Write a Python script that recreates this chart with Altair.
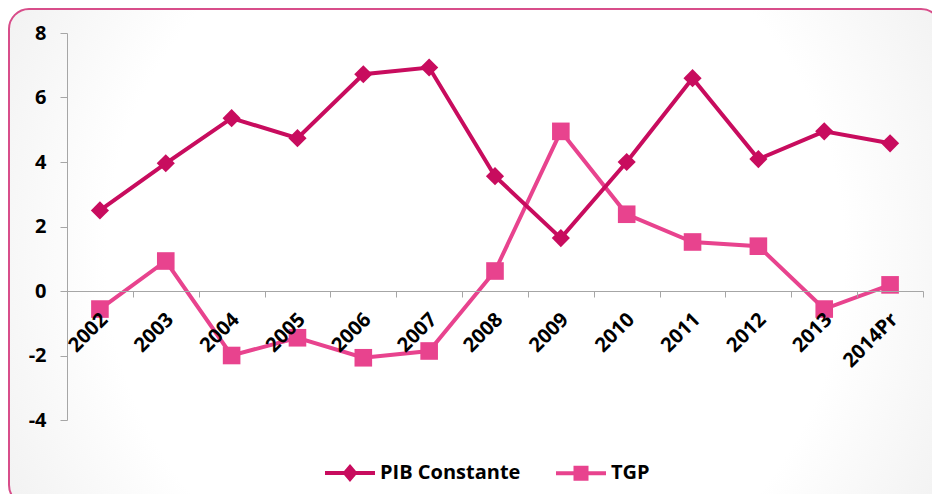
import altair as alt
import pandas as pd

years = ["2002", "2003", "2004", "2005", "2006", "2007", "2008", "2009",
         "2010", "2011", "2012", "2013", "2014Pr"]
pib = [2.5, 3.96, 5.36, 4.74, 6.72, 6.93, 3.56, 1.64, 4.0, 6.6, 4.09, 4.95, 4.58]
tgp = [-0.56, 0.93, -2.0, -1.45, -2.07, -1.86, 0.62, 4.95, 2.38, 1.52, 1.39, -0.56, 0.19]
series = ["PIB Constante", "TGP"]
colors = ["#C80C5E", "#E8438E"]
marker_shapes = ["diamond", "square"]
y_ticks = [-4, -2, 0, 2, 4, 6, 8]

rows = []
for i, yr in enumerate(years):
    rows.append({"year": yr, "series": series[0], "value": pib[i]})
    rows.append({"year": yr, "series": series[1], "value": tgp[i]})
df = pd.DataFrame(rows)

# rows without a value: they draw nothing, they only carry the legend
df_leg = pd.DataFrame({"year": [years[0], years[0]], "series": series, "value": [None, None]})

FONT = "Open Sans"

x_enc = alt.X("year:N", sort=years, title=None,
              scale=alt.Scale(type="band", paddingInner=0, paddingOuter=0),
              axis=alt.Axis(labelAngle=-45, labelAlign="right", labelBaseline="top",
                            labelPadding=12, labelOffset=-3, tickBand="extent", tickSize=6,
                            offset=-129, domainColor="#a6a6a6", tickColor="#a6a6a6",
                            labelFont=FONT, labelFontSize=20, labelFontWeight="bold",
                            labelColor="black", grid=False, zindex=1))
y_enc = alt.Y("value:Q", title=None,
              scale=alt.Scale(domain=[-4, 8], nice=False, zero=False),
              axis=alt.Axis(values=y_ticks, grid=False, tickSize=7, labelPadding=14,
                            labelExpr="'' + datum.value",
                            domainColor="#a6a6a6", tickColor="#a6a6a6",
                            labelFont=FONT, labelFontSize=20, labelFontWeight="bold",
                            labelColor="black", zindex=1))

grad = alt.RadialGradient(
    gradient="radial",
    stops=[alt.GradientStop(color="#ffffff", offset=0),
           alt.GradientStop(color="#ffffff", offset=0.55),
           alt.GradientStop(color="#e6e6e6", offset=1)],
    x1=0.5, y1=0.5, r1=0, x2=0.5, y2=0.5, r2=0.72)

frame = alt.Chart(alt.Data(values=[{}])).mark_rect(
    fill=grad, stroke="#d84d8a", strokeWidth=2, cornerRadius=20
).encode(x=alt.value(-58), x2=alt.value(874), y=alt.value(-24), y2=alt.value(472))

base = alt.Chart(df)
layers = [frame]
for i in [1, 0]:
    s = base.transform_filter(alt.datum.series == series[i])
    layers.append(s.mark_line(strokeWidth=4, color=colors[i]).encode(x=x_enc, y=y_enc))
    layers.append(s.mark_point(shape=marker_shapes[i], filled=True, opacity=1,
                               size=330 if i == 0 else 310, color=colors[i])
                  .encode(x=x_enc, y=y_enc))

path_pib = "M-1,0H1M0,-0.24L0.2,0L0,0.24L-0.2,0Z"
path_tgp = "M-1,0H1M-0.22,-0.22H0.22V0.22H-0.22Z"

leg = alt.Legend(title=None, orient="none", legendX=256, legendY=413, direction="horizontal",
                 symbolSize=2500, symbolStrokeWidth=4, symbolOpacity=1,
                 labelFont=FONT, labelFontSize=20,
                 labelFontWeight="bold", labelColor="black", columnPadding=27,
                 labelOffset=3, zindex=1)

legend_layer = alt.Chart(df_leg).mark_point(filled=True, opacity=1).encode(
    x=x_enc, y=y_enc,
    fill=alt.Fill("series:N", scale=alt.Scale(domain=series, range=colors), legend=leg),
    stroke=alt.Stroke("series:N", scale=alt.Scale(domain=series, range=colors), legend=leg),
    shape=alt.Shape("series:N", scale=alt.Scale(domain=series, range=[path_pib, path_tgp]), legend=leg),
)
layers.append(legend_layer)

chart = alt.layer(*layers).properties(
    width=856, height=387,
    autosize=alt.AutoSizeParams(type="none"),
    padding={"left": 59, "top": 25, "right": 9, "bottom": 74},
    background="white",
).configure_view(stroke=None)

chart.save("out.html", embed_options={"renderer": "svg", "actions": False})
